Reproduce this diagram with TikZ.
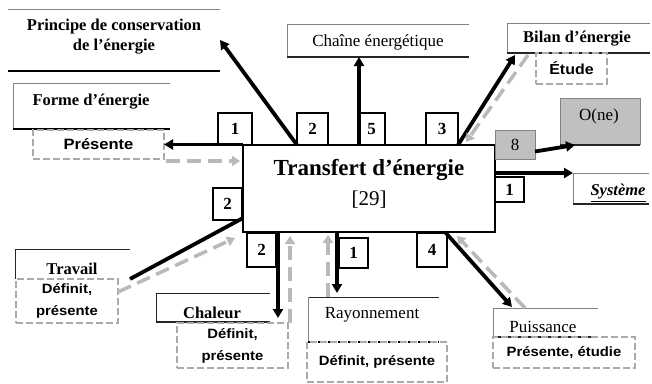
\documentclass[tikz,border=0pt]{standalone}
\usepackage{fontspec}
\setmainfont{Liberation Serif}
\newfontfamily\tagfont[FakeStretch=1.1]{Liberation Sans}
\usetikzlibrary{arrows.meta,calc}
\definecolor{gline}{RGB}{185,185,185}
\definecolor{gdbox}{RGB}{170,170,170}
\definecolor{gfill}{RGB}{192,192,192}
\definecolor{gedge}{RGB}{130,130,130}
\begin{document}
\begin{tikzpicture}[x=1pt,y=-1pt,
  box/.style={draw=none,inner sep=0pt,outer sep=0pt,rectangle},
  lbl/.style={inner sep=0pt,font=\fontsize{17}{20}\selectfont},
  lblb/.style={inner sep=0pt,font=\fontsize{16.5}{20}\selectfont\bfseries},
  tag/.style={inner sep=0pt,align=center,font=\tagfont\bfseries\fontsize{13.5}{22}\selectfont},
  numbox/.style={draw=black,line width=1.4pt,fill=white,inner sep=0pt,outer sep=0pt,font=\fontsize{17}{20}\selectfont\bfseries},
  dbox/.style={draw=gdbox,line width=1.5pt,dash pattern=on 7pt off 3pt,inner sep=0pt,outer sep=0pt},
  edge/.style={draw=gedge,line width=0.8pt},
  edgeb/.style={draw=black!85,line width=1.8pt},
  blk/.style={draw=black,line width=3.8pt,-{Triangle[length=9pt,width=10pt]}},
  gry/.style={draw=gline,line width=3.5pt,dash pattern=on 14pt off 7pt,-{Triangle[length=8pt,width=10pt,fill=gline]}},
]
\useasboundingbox (0,0) rectangle (652,383);
\fill[white] (0,0) rectangle (652,383);

% Principe
\node[box,minimum width=212pt,minimum height=62pt] (princ) at (114,40) {};
\node[lblb,align=center] (princt) at (114,37) {Principe de conservation\\de l’énergie};
\draw[edge] (princ.north west) -- (princ.north east);
\draw[draw=black,line width=2.5pt] (princ.south west) -- (princ.south east);

% Forme
\node[box,minimum width=157pt,minimum height=46pt] (forme) at (91.5,106) {};
\node[lblb] (formet) at (91,102) {Forme d’énergie};
\draw[edge] (forme.north east) -- (forme.north west) -- (forme.south west);
\draw[draw=black,line width=2.5pt] (forme.south west) -- (forme.south east);
\node[dbox,tag,font=\tagfont\bfseries\fontsize{15}{18}\selectfont,minimum width=131pt,minimum height=29pt] (pres) at (98.5,144.5) {Présente};

% Chaine
\node[box,minimum width=182pt,minimum height=33pt] (chaine) at (378,40.5) {};
\node[lbl] (chainet) at (378,42) {Chaîne énergétique};
\draw[edge] (chaine.north east) -- (chaine.north west) -- (chaine.south west);
\draw[edgeb] (chaine.south west) -- (chaine.south east);

% Bilan
\node[box,minimum width=143pt,minimum height=30pt] (bilan) at (578.5,38) {};
\node[lblb] (bilant) at (577,39) {Bilan d’énergie};
\draw[edge] (bilan.north east) -- (bilan.north west) -- (bilan.south west);
\draw[edgeb] (bilan.south west) -- (bilan.south east);
\node[dbox,tag,font=\tagfont\bfseries\fontsize{14.5}{18}\selectfont,minimum width=71pt,minimum height=31pt] (etude) at (571.5,68.5) {Étude};

% O(ne)
\node[box,fill=gfill,minimum width=80pt,minimum height=47pt] (one) at (600,121.5) {};
\node[lbl] (onet) at (599,116) {O(ne)};
\draw[edge] (one.south east) -- (one.north east) -- (one.north west) -- (one.south west);
\draw[edgeb] (one.south west) -- (one.south east);

% Systeme
\node[box,minimum width=76pt,minimum height=31pt] (systeme) at (611,188.5) {};
\node[lblb] (systemet) at (618,193) {\underline{\textit{Système}}};
\draw[edge] (systeme.north east) -- (systeme.north west) -- (systeme.south west);
\draw[edgeb] (systeme.south west) -- (systeme.south east);

% Travail
\node[box,minimum width=115pt,minimum height=30pt] (travail) at (72.5,264) {};
\node[lblb] (travailt) at (72,269) {Travail};
\draw[edgeb,line width=1pt] (travail.north east) -- (travail.north west) -- (travail.south west);
\node[dbox,tag,minimum width=102pt,minimum height=44pt] (tdef) at (67,301) {Définit,\\présente};

% Chaleur
\node[box,minimum width=114pt,minimum height=29pt] (chaleur) at (213,307.5) {};
\node[lblb] (chaleurt) at (212,313) {Chaleur};
\draw[edgeb,line width=1pt] (chaleur.north east) -- (chaleur.north west) -- (chaleur.south west);
\draw[edgeb] (chaleur.south west) -- (chaleur.south east);
\node[dbox,tag,minimum width=111pt,minimum height=45pt] (cdef) at (232.5,345.5) {Définit,\\présente};

% Rayonnement
\node[box,minimum width=131pt,minimum height=45pt] (ray) at (373.5,319.5) {};
\node[lbl] (rayt) at (372,315) {Rayonnement};
\draw[edgeb,line width=1pt] (ray.north east) -- (ray.north west);
\draw[edge] (ray.north west) -- (ray.south west);
\draw[draw=black,line width=1.8pt,dash pattern=on 2pt off 3pt] (ray.south west) -- (ray.south east);
\node[dbox,tag,minimum width=140pt,minimum height=40pt] (rdef) at (377,362) {Définit, présente};

% Puissance
\node[box,minimum width=105pt,minimum height=29pt] (puis) at (545.5,322.5) {};
\node[lbl] (puist) at (543,327) {Puissance};
\draw[edge] (puis.north east) -- (puis.north west) -- (puis.south west);
\draw[edgeb] (puis.south west) -- (puis.south east);
\node[dbox,tag,minimum width=142pt,minimum height=31pt] (pdef) at (564,352.5) {Présente, étudie};

% Main box
\node[draw=black,line width=2.5pt,fill=white,minimum width=252pt,minimum height=87pt,inner sep=0pt,outer sep=0pt] (main) at (369,188.5) {};
\node[inner sep=0pt,font=\fontsize{23}{26}\selectfont\bfseries] (maint) at (369,170) {Transfert d’énergie};
\node[inner sep=0pt,font=\fontsize{21}{24}\selectfont] (mainn) at (369,200) {[29]};

% Number boxes
\node[numbox,minimum width=34pt,minimum height=32pt] (n1a) at (235,129) {1};
\node[numbox,minimum width=31pt,minimum height=32pt] (n2a) at (312.5,129) {2};
\node[numbox,minimum width=27pt,minimum height=32pt] (n5) at (371.5,129) {5};
\node[numbox,minimum width=32pt,minimum height=32pt] (n3) at (442,129) {3};
\node[numbox,minimum width=29pt,minimum height=32pt] (n2b) at (227.5,204) {2};
\node[numbox,minimum width=29pt,minimum height=34pt] (n2c) at (261.5,250) {2};
\node[numbox,minimum width=29pt,minimum height=30pt] (n1b) at (353.5,253) {1};
\node[numbox,minimum width=30pt,minimum height=34pt] (n4) at (432,250) {4};
\node[numbox,minimum width=29pt,minimum height=25pt] (n1c) at (509.5,189.5) {1};
\node[numbox,fill=gfill,draw=gedge,line width=1pt,font=\fontsize{17}{20}\selectfont,minimum width=40pt,minimum height=29pt] (b8) at (515,144.5) {8};

% Connectors
\draw[blk] (main.north west |- pres.east) -- (pres.east);
\draw[gry] ($(pres.south east)+(2,2)$) -- ($(main.north west)+(-3,16)$);
\draw[blk] ($(main.north west)+(54,0)$) -- (princ.east);
\coordinate (c5) at ($(main.north west)+(116,0)$);
\draw[blk] (c5) -- (c5 |- chaine.south);
\draw[blk] ($(main.north west)+(215,0)$) -- ($(bilan.south west)+(8,2)$);
\draw[gry] ($(bilan.south west)+(21,2)$) -- ($(main.north west)+(223,-3)$);
\draw[blk] ($(b8.east)+(0,7)$) -- ($(one.south west)+(15,0)$);
\draw[blk] (main.east |- systeme.north west) -- (systeme.north west);
\draw[draw=black,line width=3.8pt] ($(main.south west)+(0,-14)$) -- (travail.south east);
\draw[gry] ($(tdef.north east)+(0,13)$) -- ($(main.south west)+(-8,6)$);
\draw[blk] ($(main.south west)+(35,0)$) -- ($(cdef.north west)+(101,-5)$);
\draw[gry] ($(cdef.north east)+(2,0)$) -- ($(main.south west)+(47,4)$);
\draw[blk] ($(main.south west)+(94,0)$) -- ($(ray.north west)+(29,-4)$);
\draw[gry] ($(ray.north west)+(20,0)$) -- ($(main.south west)+(85,3)$);
\draw[blk] ($(main.south west)+(202,0)$) -- ($(puis.north west)+(19,-1)$);
\draw[gry] ($(puis.north west)+(32,0)$) -- ($(main.south west)+(214,4)$);
\end{tikzpicture}
\end{document}
